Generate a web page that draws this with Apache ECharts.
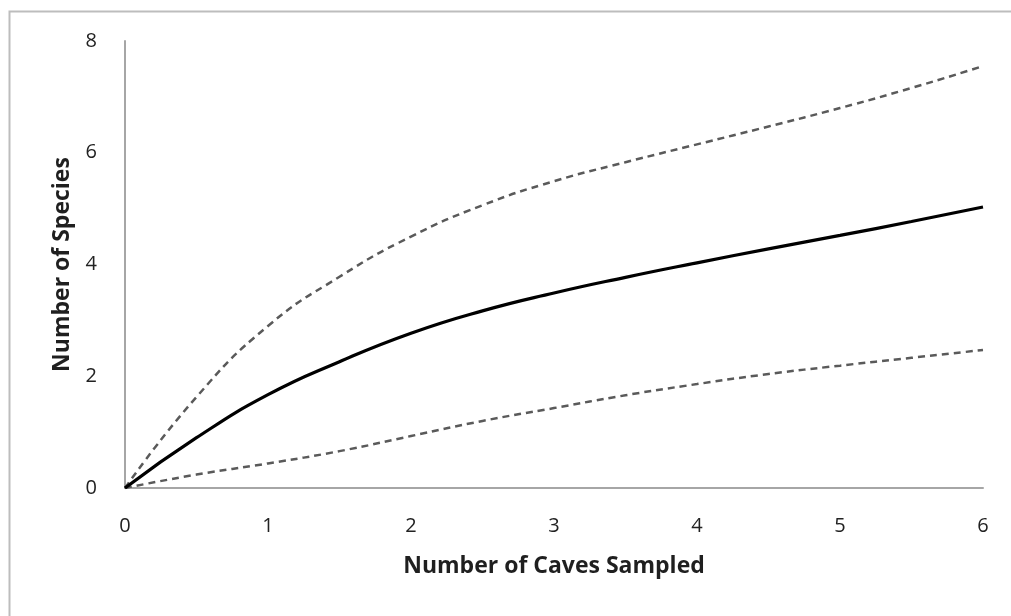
<!DOCTYPE html>
<html>
<head>
<meta charset="utf-8">
<script src="https://cdn.jsdelivr.net/npm/echarts@6/dist/echarts.min.js"></script>
<style>html,body{margin:0;padding:0;background:#fff}#c{width:1011px;height:616px}</style>
</head>
<body>
<div id="c"></div>
<script>
const caves = [0, 0.5, 1, 1.5, 2, 2.5, 3, 3.5, 4, 4.5, 5, 5.5, 6];
const meanSpecies = [0, 0.9, 1.67, 2.26, 2.77, 3.17, 3.49, 3.77, 4.03, 4.28, 4.52, 4.77, 5.03];
const upperCI = [0, 1.63, 2.9, 3.78, 4.5, 5.06, 5.49, 5.83, 6.15, 6.47, 6.8, 7.16, 7.55];
const lowerCI = [0, 0.24, 0.44, 0.66, 0.93, 1.2, 1.43, 1.66, 1.86, 2.04, 2.19, 2.33, 2.47];
const xTicks = [0, 1, 2, 3, 4, 5, 6];
const yTicks = [0, 2, 4, 6, 8];

const pair = (xs, ys) => xs.map((x, i) => [x, ys[i]]);
const font = '"Open Sans", "Liberation Sans", sans-serif';

const chart = echarts.init(document.getElementById('c'));
chart.setOption({
  animation: false,
  backgroundColor: '#fff',
  graphic: [{
    type: 'rect', left: 7, top: 9, silent: true,
    shape: { width: 1020, height: 630 },
    style: { fill: 'none', stroke: '#bdbdbd', lineWidth: 2 }
  }],
  grid: { left: 125, right: 28, top: 41, bottom: 128 },
  xAxis: {
    type: 'value', min: xTicks[0], max: xTicks[xTicks.length - 1], interval: 1,
    name: 'Number of Caves Sampled', nameLocation: 'middle', nameGap: 67,
    nameTextStyle: { fontFamily: font, fontWeight: 'bold', fontSize: 23, color: '#1f1f1f' },
    axisLine: { lineStyle: { color: '#a6a6a6', width: 2 } },
    axisTick: { show: false },
    splitLine: { show: false },
    axisLabel: { margin: 28, fontFamily: font, fontSize: 20, color: '#222' }
  },
  yAxis: {
    type: 'value', min: yTicks[0], max: yTicks[yTicks.length - 1], interval: 2,
    name: 'Number of Species', nameLocation: 'middle', nameGap: 51, nameRotate: 90,
    nameTextStyle: { fontFamily: font, fontWeight: 'bold', fontSize: 23, color: '#1f1f1f' },
    axisLine: { show: true, lineStyle: { color: '#a6a6a6', width: 2 } },
    axisTick: { show: false },
    splitLine: { show: false },
    axisLabel: { margin: 28, fontFamily: font, fontSize: 20, color: '#222' }
  },
  series: [
    { type: 'line', data: pair(caves, upperCI), smooth: 0.5, symbol: 'none',
      lineStyle: { color: '#5a5a5a', width: 2.5, type: [7, 5] }, z: 2 },
    { type: 'line', data: pair(caves, lowerCI), smooth: 0.5, symbol: 'none',
      lineStyle: { color: '#5a5a5a', width: 2.5, type: [7, 5] }, z: 2 },
    { type: 'line', data: pair(caves, meanSpecies), smooth: 0.5, symbol: 'none',
      lineStyle: { color: '#000', width: 3.2 }, z: 3 }
  ]
});
</script>
</body>
</html>
